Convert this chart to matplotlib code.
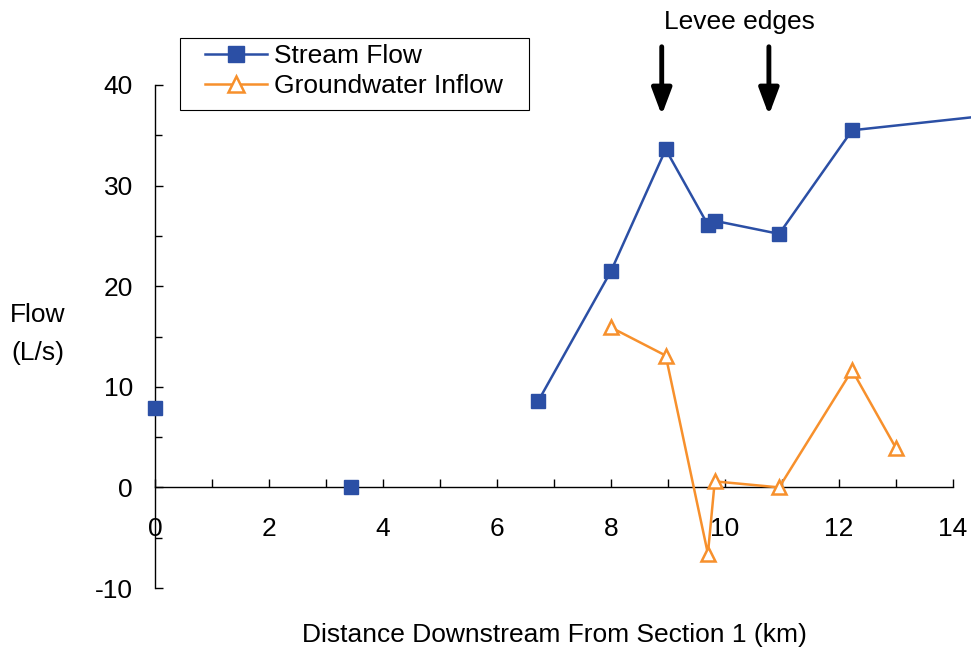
import matplotlib
matplotlib.use("Agg")
import matplotlib.pyplot as plt
import numpy as np
from matplotlib.ticker import MultipleLocator
from matplotlib.patches import Rectangle

plt.rcParams['font.family'] = ['Liberation Sans', 'DejaVu Sans']
plt.rcParams['axes.unicode_minus'] = False

# Data
stream_x = [0.0, np.nan, 3.44, np.nan, 6.72, 8.0, 8.96, 9.70, 9.82, 10.95, 12.23, 15.0]
stream_y = [7.85, np.nan, 0.0, np.nan, 8.55, 21.5, 33.6, 26.1, 26.5, 25.2, 35.5, 37.2]
gw_x = [8.0, 8.96, 9.70, 9.82, 10.95, 12.23, 13.0]
gw_y = [15.9, 13.1, -6.6, 0.6, 0.0, 11.65, 3.9]
levee_x = [8.89, 10.77]
x_ticks = [0, 2, 4, 6, 8, 10, 12, 14]
y_ticks = [-10, 0, 10, 20, 30, 40]

blue = '#2B4FA5'
orange = '#F7902C'
FS = 19

fig = plt.figure(figsize=(9.71, 6.53), dpi=100)
ax = fig.add_axes([155/971, 1-588/653, (953-155)/971, (588-85)/653])

ax.plot(stream_x, stream_y, color=blue, lw=1.8, marker='s', ms=10,
        mfc=blue, mec=blue, label='Stream Flow', clip_on=False, zorder=3)
ax.plot(gw_x, gw_y, color=orange, lw=1.8, marker='^', ms=10,
        mfc='white', mec=orange, mew=1.8, label='Groundwater Inflow',
        clip_on=False, zorder=3)

ax.set_xlim(0, 14)
ax.set_ylim(-10, 40)
ax.set_xticks(x_ticks)
ax.set_yticks(y_ticks)
ax.xaxis.set_minor_locator(MultipleLocator(1))
ax.yaxis.set_minor_locator(MultipleLocator(5))

for s in ['top', 'right']:
    ax.spines[s].set_visible(False)
ax.spines['bottom'].set_position(('data', 0))
ax.spines['left'].set_linewidth(1.0)
ax.spines['bottom'].set_linewidth(1.0)

ax.tick_params(axis='x', which='both', direction='in', length=6, width=1.0,
               pad=21, labelsize=FS)
ax.tick_params(axis='y', which='major', direction='in', length=6, width=1.0,
               pad=16, labelsize=FS)
ax.tick_params(axis='y', which='minor', direction='in', length=5, width=1.0)

fig.text(554/971, 1-635/653, 'Distance Downstream From Section 1 (km)',
         fontsize=FS, ha='center', va='center')
fig.text(38/971, 1-334/653, 'Flow\n(L/s)', fontsize=FS, ha='center', va='center',
         linespacing=1.7)

for lx in levee_x:
    ax.annotate('', xy=(lx, 37.0), xytext=(lx, 43.8),
                arrowprops=dict(arrowstyle='-|>,head_width=0.6,head_length=1.6',
                                color='black', lw=3.5, shrinkA=0, shrinkB=0),
                annotation_clip=False)
fig.text(739/971, 1-22/653, 'Levee edges', fontsize=FS, ha='center', va='center')

leg = ax.legend(loc='upper left', bbox_to_anchor=(205/971, 1-44/653),
                bbox_transform=fig.transFigure, fontsize=FS, frameon=False,
                handlelength=2.35, handletextpad=0.25, borderpad=0.0,
                labelspacing=0.22, borderaxespad=0, markerscale=1.1)
fig.patches.append(Rectangle((180/971, 1-110/653), 349/971, 72/653,
                             transform=fig.transFigure, fill=False,
                             ec='black', lw=0.8))

fig.savefig('out.png', dpi=100)
